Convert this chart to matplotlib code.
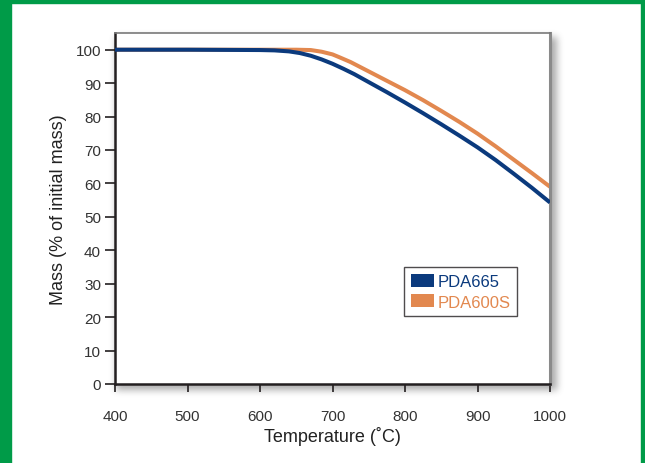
import numpy as np
import matplotlib
matplotlib.use("Agg")
import matplotlib.pyplot as plt
from matplotlib.patches import Patch, Rectangle

plt.rcParams['font.family'] = ['Liberation Sans', 'DejaVu Sans']

# temperature (C) and mass (% of initial mass)
temp_665 = [400, 500, 600, 620, 640, 655, 670, 685, 700, 715, 730, 750, 775, 800,
            825, 850, 875, 900, 925, 950, 975, 1000]
mass_665 = [100, 100, 99.9, 99.8, 99.5, 99.0, 98.2, 97.1, 95.8, 94.3, 92.7, 90.3, 87.3, 84.2,
            81.0, 77.7, 74.3, 70.8, 67.0, 62.9, 58.7, 54.3]

temp_600s = [400, 500, 600, 650, 670, 685, 700, 710, 725, 750, 775, 800,
             825, 850, 875, 900, 925, 950, 975, 1000]
mass_600s = [100, 100, 100, 100, 99.9, 99.4, 98.6, 97.7, 96.3, 93.5, 90.7, 87.9,
             84.9, 81.7, 78.4, 74.9, 71.1, 67.1, 63.1, 59.0]

labels = ["PDA665", "PDA600S"]
colors = ["#0b3a7d", "#e2884f"]

x_ticks = [400, 500, 600, 700, 800, 900, 1000]
y_ticks = [0, 10, 20, 30, 40, 50, 60, 70, 80, 90, 100]

W, H = 645, 464
fig = plt.figure(figsize=(W / 100, H / 100), dpi=100)
fig.patch.set_facecolor("white")

# plot area in pixels (left, top, right, bottom)
px_l, px_t, px_r, px_b = 115, 34, 550, 385
ax_pos = [px_l / W, 1 - px_b / H, (px_r - px_l) / W, (px_b - px_t) / H]

# soft drop shadow behind the plot area
bg = fig.add_axes([0, 0, 1, 1], zorder=-5)
bg.set_axis_off()
mask = np.zeros((H, W))
off = 4
mask[px_t + off:px_b + off + 2, px_l + off - 3:px_r + off + 3] = 1.0
k = np.ones(7) / 7.0
for _ in range(3):
    mask = np.apply_along_axis(lambda r: np.convolve(r, k, mode="same"), 1, mask)
    mask = np.apply_along_axis(lambda c: np.convolve(c, k, mode="same"), 0, mask)
shadow = np.zeros((H, W, 4))
shadow[..., :3] = 0.35
shadow[..., 3] = mask * 0.5
bg.imshow(shadow, extent=[0, W, H, 0], aspect="auto", interpolation="bilinear")
bg.set_xlim(0, W)
bg.set_ylim(H, 0)

# green frame
green = "#009b48"
fig.patches.append(Rectangle((0, 0), 11 / W, 1, transform=fig.transFigure,
                             color=green, zorder=10))
fig.patches.append(Rectangle((0, 1 - 3.5 / H), 1, 3.5 / H, transform=fig.transFigure,
                             color=green, zorder=10))
fig.patches.append(Rectangle((1 - 4.5 / W, 0), 4.5 / W, 1, transform=fig.transFigure,
                             color=green, zorder=10))

ax = fig.add_axes(ax_pos)
ax.set_facecolor("white")
ax.plot(temp_665, mass_665, color=colors[0], lw=2.9, solid_capstyle="butt", zorder=3)
ax.plot(temp_600s, mass_600s, color=colors[1], lw=2.9, solid_capstyle="butt", zorder=2)

ax.set_xlim(400, 1000)
ax.set_ylim(0, 105)
ax.set_xticks(x_ticks)
ax.set_yticks(y_ticks)
ax.tick_params(axis="both", direction="out", labelsize=11, labelcolor="#333333",
               color="#231f20", width=1.2)
ax.tick_params(axis="x", length=6, pad=12)
ax.tick_params(axis="y", length=7, pad=3)

for s in ["left", "bottom"]:
    ax.spines[s].set_color("#231f20")
    ax.spines[s].set_linewidth(1.8)
ax.spines["top"].set_color("#7a7a7a")
ax.spines["top"].set_linewidth(1.2)
ax.spines["right"].set_color("#8a8a8a")
ax.spines["right"].set_linewidth(2.2)

ax.set_xlabel("Temperature (˚C)", fontsize=13, color="#222222", labelpad=2)
ax.set_ylabel("Mass (% of initial mass)", fontsize=13, color="#222222", labelpad=6)

handles = [Patch(facecolor=c, edgecolor="none") for c in colors]
leg = ax.legend(handles, labels, loc="upper left", bbox_to_anchor=(0.665, 0.333),
                fontsize=12, frameon=True, fancybox=False, borderaxespad=0,
                handlelength=1.4, handleheight=0.85, handletextpad=0.2,
                labelspacing=0.3, borderpad=0.4)
leg.get_frame().set_edgecolor("#231f20")
leg.get_frame().set_linewidth(1.0)
for t, c in zip(leg.get_texts(), colors):
    t.set_color(c)

fig.savefig("out.png", dpi=100)
